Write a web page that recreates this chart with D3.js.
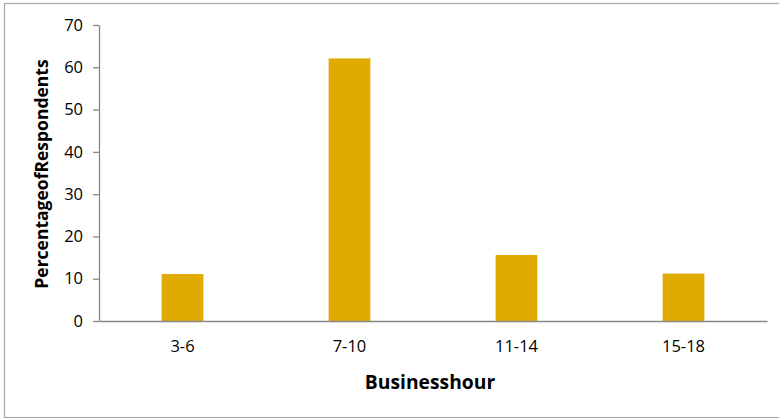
<!DOCTYPE html>
<html>
<head>
<meta charset="utf-8">
<script src="https://cdn.jsdelivr.net/npm/d3@7/dist/d3.min.js"></script>
<style>
  html, body { margin: 0; padding: 0; background: #fff; }
  svg { display: block; }
</style>
</head>
<body>
<svg id="chart" width="779" height="419"></svg>
<script>
// Share of respondents by business hours
const categories = ["3-6", "7-10", "11-14", "15-18"];
const percentages = [11.1, 62.1, 15.6, 11.2];
const yTicks = [0, 10, 20, 30, 40, 50, 60, 70];
const xTitle = "Businesshour";
const yTitle = "PercentageofRespondents";

const svg = d3.select("#chart");
const W = 779, H = 419;
const margin = { left: 99, right: 12, top: 25, bottom: 98 };
const plotW = W - margin.left - margin.right;
const plotH = H - margin.top - margin.bottom;
const font = "'Open Sans', sans-serif";

// outer frame
svg.append("rect")
  .attr("x", 4.5).attr("y", 3.5)
  .attr("width", W + 10).attr("height", H - 5)
  .attr("fill", "none").attr("stroke", "#a9a9a9").attr("stroke-width", 1.2);

const g = svg.append("g").attr("transform", `translate(${margin.left},${margin.top})`);

const x = d3.scaleBand().domain(categories).range([0, plotW]).paddingInner(0).paddingOuter(0);
const y = d3.scaleLinear().domain([0, 70]).range([plotH, 0]);

// bars
const barW = x.bandwidth() * 0.25;
g.selectAll("rect.bar").data(categories).join("rect")
  .attr("class", "bar")
  .attr("x", d => x(d) + (x.bandwidth() - barW) / 2)
  .attr("width", barW)
  .attr("y", (d, i) => y(percentages[i]))
  .attr("height", (d, i) => plotH - y(percentages[i]))
  .attr("fill", "#e0aa00");

// y axis
const yAxis = g.append("g")
  .call(d3.axisLeft(y).tickValues(yTicks).tickSize(6).tickPadding(10).tickSizeOuter(0));
yAxis.select(".domain").attr("stroke", "#888").attr("stroke-width", 1.3);
yAxis.selectAll(".tick line").attr("stroke", "#888").attr("stroke-width", 1.3);
yAxis.selectAll("text").attr("font-family", font).attr("font-size", 16.5).attr("fill", "#000");

// x axis
const xAxis = g.append("g").attr("transform", `translate(0,${plotH})`)
  .call(d3.axisBottom(x).tickSize(0).tickPadding(19).tickSizeOuter(0));
xAxis.select(".domain").attr("stroke", "#888").attr("stroke-width", 1.3);
xAxis.selectAll("text").attr("font-family", font).attr("font-size", 16.5).attr("fill", "#000");

// axis titles
svg.append("text")
  .attr("x", 430).attr("y", 389)
  .attr("text-anchor", "middle")
  .attr("font-family", font).attr("font-weight", "bold").attr("font-size", 19.3)
  .attr("fill", "#000")
  .text(xTitle);

svg.append("text")
  .attr("transform", "translate(48,174) rotate(-90)")
  .attr("text-anchor", "middle")
  .attr("font-family", font).attr("font-weight", "bold").attr("font-size", 17.5)
  .attr("fill", "#000")
  .text(yTitle);
</script>
</body>
</html>
